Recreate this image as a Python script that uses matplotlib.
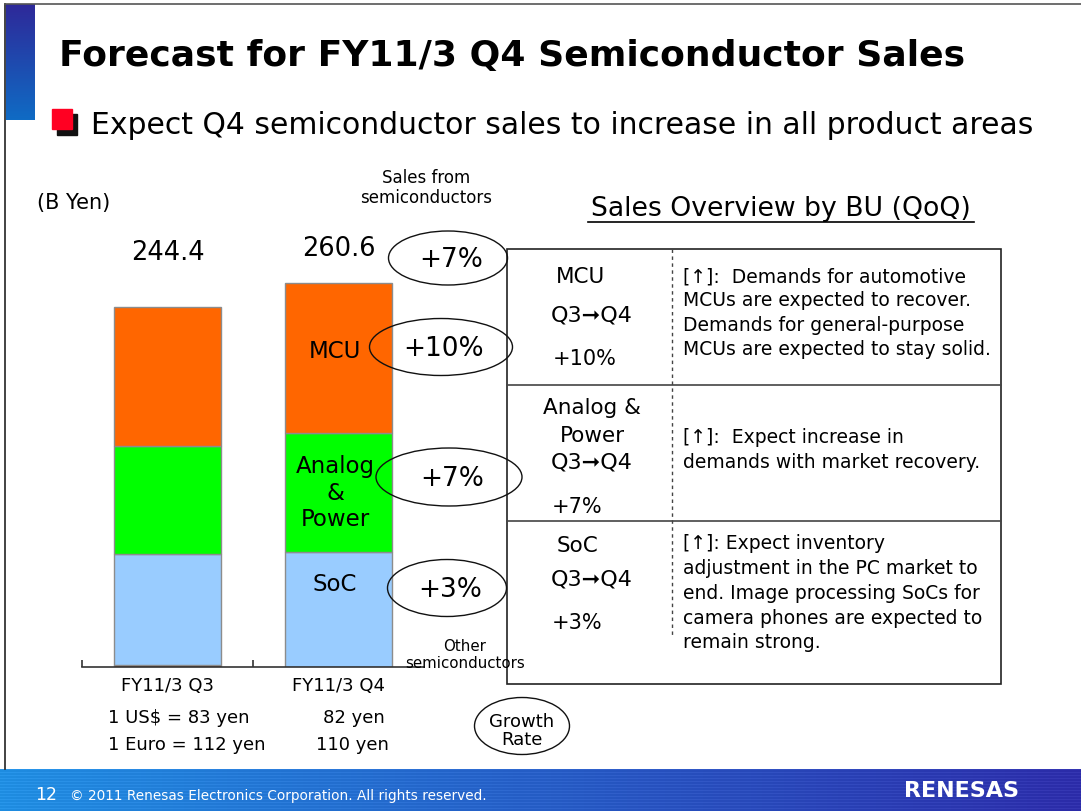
import numpy as np
import matplotlib
matplotlib.use("Agg")
import matplotlib.pyplot as plt
from matplotlib.patches import Ellipse, Rectangle

# ---------------- data ----------------
periods = ["FY11/3 Q3", "FY11/3 Q4"]
other = [1.2, 0.3]
soc = [75.5, 77.9]
analog = [73.3, 80.8]
mcu = [94.4, 101.6]
totals = [244.4, 260.6]
seg_names = ["Other semiconductors", "SoC", "Analog\n&\nPower", "MCU"]
seg_colors = ["#993300", "#99CCFF", "#00FF00", "#FF6600"]
growth_labels = ["+7%", "+10%", "+7%", "+3%"]
fx_usd = ["1 US$ = 83 yen", "82 yen"]
fx_eur = ["1 Euro = 112 yen", "110 yen"]

bu_names = [["MCU"], ["Analog &", "Power"], ["SoC"]]
bu_growth = ["+10%", "+7%", "+3%"]
bu_text = [
    ["[↑]:  Demands for automotive", "MCUs are expected to recover.",
     "Demands for general-purpose", "MCUs are expected to stay solid."],
    ["[↑]:  Expect increase in", "demands with market recovery."],
    ["[↑]: Expect inventory", "adjustment in the PC market to",
     "end. Image processing SoCs for", "camera phones are expected to",
     "remain strong."],
]

W, H = 1081, 812
fig = plt.figure(figsize=(W / 100, H / 100), dpi=100)
fig.patch.set_facecolor("white")
FONT = "DejaVu Sans"

# ---------------- bar chart axes ----------------
ax = fig.add_axes([82 / W, 144 / H, 342 / W, 442 / H])
ax.patch.set_visible(False)
x = np.arange(len(periods))
bw = 0.63
bottom = np.zeros(len(periods))
for vals, col in zip([other, soc, analog, mcu], seg_colors):
    ax.bar(x, vals, bw, bottom=bottom, color=col, edgecolor="#8c8c8c",
           linewidth=1.0, zorder=2)
    bottom = bottom + np.array(vals)
ax.set_xlim(-0.5, 1.5)
ax.set_ylim(0, 300)
for s in ["top", "right", "left"]:
    ax.spines[s].set_visible(False)
ax.spines["bottom"].set_color("#333333")
ax.spines["bottom"].set_linewidth(1.2)
ax.set_yticks([])
ax.set_xticks([-0.5, 0.5])
ax.set_xticklabels([])
ax.tick_params(axis="x", direction="in", length=5, color="#333333", width=1.2)

# totals
for i, t in enumerate(totals):
    ax.text(i, 281.6 + 3 * i, f"{t:.1f}", ha="center", va="center",
            fontsize=18.5, family=FONT)
# period labels
for i, p in enumerate(periods):
    ax.text(i, -12, p, ha="center", va="center", fontsize=13, family=FONT)

# segment labels on Q4 bar
q = 1
b0 = other[q]
segs_q4 = [soc[q], analog[q], mcu[q]]
fracs = [0.72, 0.5, 0.55]
for name, val, fr in zip(seg_names[1:], segs_q4, fracs):
    ax.text(q - 0.02, b0 + val * fr, name, ha="center", va="center", fontsize=16.5,
            family=FONT, linespacing=1.2)
    b0 += val

# ---------------- overlay (pixel coordinates) ----------------
ov = fig.add_axes([0, 0, 1, 1])
ov.set_xlim(0, W)
ov.set_ylim(H, 0)
ov.axis("off")
ov.patch.set_visible(False)

# slide frame
ov.plot([5, 5], [5, 770], color="#222222", lw=1.2)
ov.plot([5, W], [5, 5], color="#555555", lw=1.2)

# left blue gradient bar
g = np.linspace(0, 1, 100)[:, None]
c_top = np.array([0.18, 0.16, 0.60])
c_bot = np.array([0.06, 0.42, 0.77])
grad = c_top[None, None, :] * (1 - g[..., None]) + c_bot[None, None, :] * g[..., None]
ov.imshow(grad, extent=[6, 35, 121, 5], aspect="auto", zorder=1)

# title
ov.text(59, 56, "Forecast for FY11/3 Q4 Semiconductor Sales", fontsize=26,
        fontweight="bold", family=FONT, va="center", ha="left")

# bullet
ov.add_patch(Rectangle((57, 115), 20, 21, color="#111111", zorder=3))
ov.add_patch(Rectangle((52, 110), 20, 20, color="#FF0022", zorder=4))
ov.text(91, 125, "Expect Q4 semiconductor sales to increase in all product areas",
        fontsize=21.5, family=FONT, va="center", ha="left")

ov.text(37, 203, "(B Yen)", fontsize=15, family=FONT, va="center", ha="left")
ov.text(426, 188, "Sales from\nsemiconductors", fontsize=12, family=FONT,
        va="center", ha="center", linespacing=1.1)
ov.text(465, 655, "Other\nsemiconductors", fontsize=10.8, family=FONT,
        va="center", ha="center", linespacing=1.15)

# growth ellipses
ells = [(448, 259, 119, 54), (441, 348, 143, 57), (449, 478, 146, 58), (447, 589, 119, 57)]
for (cx, cy, ew, eh), lab in zip(ells, growth_labels):
    ov.add_patch(Ellipse((cx, cy), ew, eh, fill=False, edgecolor="#111111",
                         lw=1.0, zorder=5))
    ov.text(cx + 3, cy + 1, lab, fontsize=19, family=FONT, ha="center",
            va="center", zorder=6)

# growth rate ellipse
ov.add_patch(Ellipse((522, 727), 95, 57, fill=False, edgecolor="#111111", lw=1.0))
ov.text(522, 731, "Growth\nRate", fontsize=13, family=FONT, ha="center",
        va="center", linespacing=1.05)

# fx rates
ov.text(108, 718, fx_usd[0], fontsize=13, family=FONT, va="center", ha="left")
ov.text(323, 718, fx_usd[1], fontsize=13, family=FONT, va="center", ha="left")
ov.text(108, 745, fx_eur[0], fontsize=13, family=FONT, va="center", ha="left")
ov.text(316, 745, fx_eur[1], fontsize=13, family=FONT, va="center", ha="left")

# ---------------- table ----------------
ov.text(781, 209, "Sales Overview by BU (QoQ)", fontsize=19.2, family=FONT,
        ha="center", va="center")
ov.plot([588, 974], [223, 223], color="black", lw=1.2)
tl, tr, tt, tb = 507, 1001, 250, 685
ov.add_patch(Rectangle((tl, tt), tr - tl, tb - tt, fill=False, edgecolor="#222222", lw=1.2))
for yy in [386, 522]:
    ov.plot([tl, tr], [yy, yy], color="#444444", lw=1.2)
ov.plot([672, 672], [tt, 638], color="#444444", lw=1.0, ls=(0, (2.5, 2.5)))

name_pos = [[(581, 277)], [(592, 408), (592, 436)], [(578, 546)]]
arrow_pos = [(592, 316), (592, 463), (592, 580)]
growth_pos = [(585, 359), (577, 507), (577, 623)]
text_y = [[277, 301, 326, 350], [438, 463], [544, 569, 594, 619, 643]]
for k in range(3):
    for nm, (px, py) in zip(bu_names[k], name_pos[k]):
        ov.text(px, py, nm, fontsize=15.5, family=FONT, ha="center", va="center")
    ov.text(arrow_pos[k][0], arrow_pos[k][1], "Q3➞Q4", fontsize=16,
            family=FONT, ha="center", va="center")
    ov.text(growth_pos[k][0], growth_pos[k][1], bu_growth[k], fontsize=15,
            family=FONT, ha="center", va="center")
    for line, yy in zip(bu_text[k], text_y[k]):
        ov.text(683, yy, line, fontsize=13.5, family=FONT, ha="left", va="center")

# ---------------- footer ----------------
gx = np.linspace(0, 1, 200)[None, :]
c_l = np.array([0.12, 0.55, 0.88])
c_r = np.array([0.17, 0.17, 0.66])
fgrad = c_l[None, None, :] * (1 - gx[..., None]) + c_r[None, None, :] * gx[..., None]
fgrad = np.repeat(fgrad, 42, axis=0)
stripe = (np.arange(42) % 3 == 0)[:, None, None] * 0.04
fgrad = np.clip(fgrad + stripe, 0, 1)
ov.imshow(fgrad, extent=[0, W, 812, 770], aspect="auto", zorder=1,
          interpolation="nearest")
ov.text(35, 795, "12", fontsize=12.5, color="white", family=FONT, va="center", ha="left")
ov.text(70, 796, "© 2011 Renesas Electronics Corporation. All rights reserved.",
        fontsize=9.8, color="white", family=FONT, va="center", ha="left")
ov.text(962, 791, "RENESAS", fontsize=16, color="white", family=FONT,
        fontweight="bold", va="center", ha="center")

ov.set_xlim(0, W)
ov.set_ylim(H, 0)
fig.savefig("out.png", dpi=100)
